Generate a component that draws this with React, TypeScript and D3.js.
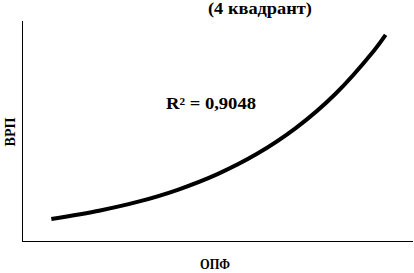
import React, { useEffect, useRef } from 'react'
import * as d3 from 'd3'

const width = 414
const height = 273
const margin = { top: 21, right: 1, bottom: 32, left: 22 }

// trend line points
const opf: number[] = [0.75, 2, 3, 4, 5, 6, 7, 8, 9, 9.3]
const vrp: number[] = [1.0, 1.39, 1.8, 2.34, 3.04, 3.95, 5.13, 6.66, 8.65, 9.37]

const title = '(4 квадрант)'
const xLabel = 'ОПФ'
const yLabel = 'ВРП'
const r2Label = 'R² = 0,9048'

const font = "'Liberation Serif', 'DejaVu Serif', serif"

export default function App() {
  const ref = useRef<SVGSVGElement>(null)

  useEffect(() => {
    const svg = d3.select(ref.current)
    svg.selectAll('*').remove()

    const x = d3.scaleLinear().domain([0, 10]).range([margin.left, width - margin.right])
    const y = d3.scaleLinear().domain([0, 10]).range([height - margin.bottom, margin.top])

    // axes: plain lines, no ticks
    svg.append('line')
      .attr('x1', x(0) + 0.5).attr('x2', x(0) + 0.5)
      .attr('y1', y(10)).attr('y2', y(0) + 1)
      .attr('stroke', '#000').attr('stroke-width', 1)
    svg.append('line')
      .attr('x1', x(0)).attr('x2', x(10))
      .attr('y1', y(0) + 0.5).attr('y2', y(0) + 0.5)
      .attr('stroke', '#000').attr('stroke-width', 1)

    const pts: [number, number][] = opf.map((d, i) => [d, vrp[i]])
    const line = d3.line<[number, number]>()
      .x(d => x(d[0]))
      .y(d => y(d[1]))
      .curve(d3.curveCatmullRom)

    svg.append('path')
      .datum(pts)
      .attr('d', line)
      .attr('fill', 'none')
      .attr('stroke', '#000')
      .attr('stroke-width', 4)

    const txt = (s: string, tx: number, ty: number, size: number, len: number) =>
      svg.append('text')
        .attr('x', tx).attr('y', ty)
        .attr('text-anchor', 'middle')
        .attr('textLength', len)
        .attr('lengthAdjust', 'spacingAndGlyphs')
        .style('font-family', font)
        .style('font-weight', 'bold')
        .style('font-size', `${size}px`)
        .attr('fill', '#000')
        .text(s)

    txt(title, 260, 14, 16, 104)
    txt(r2Label, 211, 109, 16, 90)
    txt(xLabel, 215, 269, 14, 30)
    txt(yLabel, 0, 0, 14, 29)
      .attr('transform', `translate(15, 132) rotate(-90)`)
  }, [])

  return (
    <svg
      ref={ref}
      width={width}
      height={height}
      style={{ position: 'absolute', left: 0, top: 0, background: '#fff' }}
    />
  )
}
